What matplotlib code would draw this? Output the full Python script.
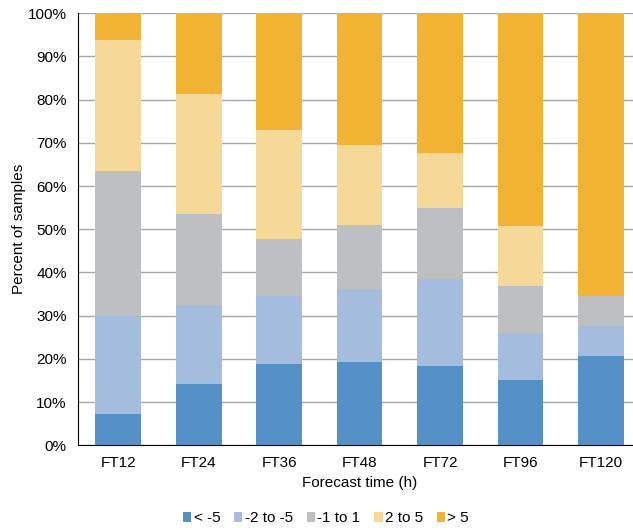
import numpy as np
from matplotlib import pyplot as plt
import matplotlib

matplotlib.rc('font', family=['Liberation Sans', 'DejaVu Sans'])

times = ['FT12', 'FT24', 'FT36', 'FT48', 'FT72', 'FT96', 'FT120']
labels = ['< -5', '-2 to -5', '-1 to 1', '2 to 5', '> 5']
colors = ['#5590c7', '#a6bcdf', '#bebfc1', '#f6d898', '#f2b234']

lt_m5 = [7.2, 14.1, 18.8, 19.2, 18.3, 15.1, 20.6]
m2_m5 = [22.7, 18.3, 15.7, 16.9, 20.2, 10.8, 7.0]
m1_p1 = [33.6, 21.1, 13.2, 14.9, 16.4, 10.9, 6.9]
p2_p5 = [30.3, 27.8, 25.3, 18.5, 12.7, 13.9, 0.0]
gt_p5 = [6.2, 18.7, 27.0, 30.5, 32.4, 49.3, 65.5]

series = [lt_m5, m2_m5, m1_p1, p2_p5, gt_p5]

fig = plt.figure(figsize=(6.33, 5.3), dpi=100)
ax = fig.add_axes([0.123, 0.160, 0.89, 0.815])

ind = np.arange(len(times))
bottom = np.zeros(len(times))
for vals, lab, col in zip(series, labels, colors):
    ax.bar(ind, vals, 0.57, bottom=bottom, color=col, label=lab, zorder=3)
    bottom += np.array(vals)

ax.set_ylim(0, 100)
ax.set_xlim(-0.5, len(times) - 0.5)
ax.set_yticks(np.arange(0, 101, 10))
ax.set_yticklabels(['%d%%' % v for v in range(0, 101, 10)])
ax.set_xticks(ind)
ax.set_xticklabels(times)
ax.yaxis.grid(True, color='#a6a6a6', linewidth=1, zorder=0)
ax.tick_params(axis='x', length=0, pad=8, labelsize=11)
ax.tick_params(axis='y', length=0, pad=8, labelsize=11)
for s in ['top', 'right']:
    ax.spines[s].set_visible(False)
ax.spines['left'].set_color('black')
ax.spines['bottom'].set_color('black')

ax.set_ylabel('Percent of samples', fontsize=11, labelpad=1.5)
ax.set_xlabel('Forecast time (h)', fontsize=11, labelpad=4)

fig.legend(loc='center', bbox_to_anchor=(0.515, 0.022), ncol=5, frameon=False,
           handlelength=0.55, handleheight=0.55, handletextpad=0.15,
           columnspacing=0.9, fontsize=11)

fig.savefig('out.png', dpi=100)
